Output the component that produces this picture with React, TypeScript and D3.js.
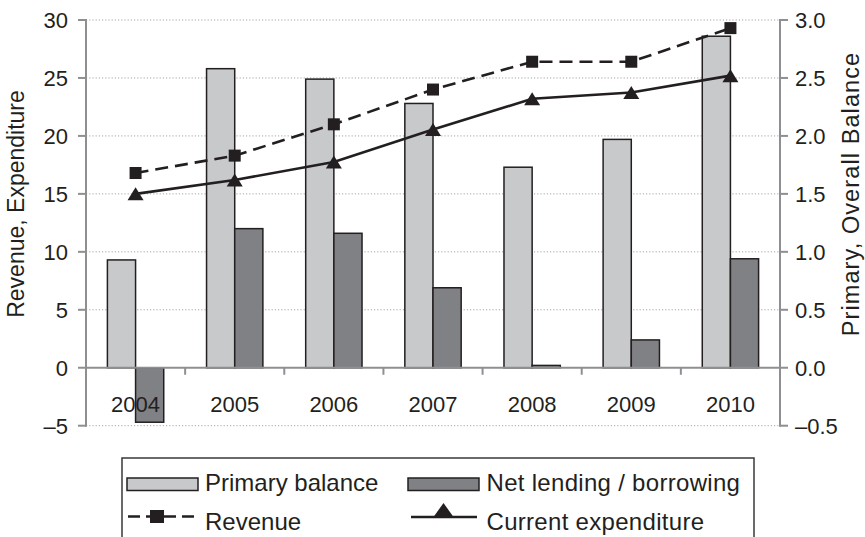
import React from 'react';
import * as d3 from 'd3';

const years = ['2004', '2005', '2006', '2007', '2008', '2009', '2010'];
const primaryBalance = [0.93, 2.58, 2.49, 2.28, 1.73, 1.97, 2.86];
const netLending = [-0.47, 1.2, 1.16, 0.69, 0.02, 0.24, 0.94];
const revenue = [16.8, 18.3, 21.0, 24.0, 26.4, 26.4, 29.3];
const expenditure = [15.0, 16.2, 17.75, 20.55, 23.2, 23.75, 25.2];
const leftTicks = [-5, 0, 5, 10, 15, 20, 25, 30];
const rightTicks = [-0.5, 0, 0.5, 1, 1.5, 2, 2.5, 3];

const W = 865;
const H = 537;
const X0 = 86;
const X1 = 780;
const YT = 20;
const YB = 425.7;
const INK = '#231f20';
const AXIS = '#8e8f92';
const FONT = '"Liberation Sans", Arial, Helvetica, sans-serif';

export default function App() {
  const x = d3.scaleBand<string>().domain(years).range([X0, X1]).padding(0);
  const inner = d3
    .scaleBand<string>()
    .domain(['p', 'n'])
    .range([0, x.bandwidth()])
    .paddingInner(0)
    .paddingOuter(0.76);
  const yL = d3.scaleLinear().domain([-5, 30]).range([YB, YT]);
  const yR = d3.scaleLinear().domain([-0.5, 3]).range([YB, YT]);
  const cx = (d: string) => (x(d) as number) + x.bandwidth() / 2;

  const revLine = d3
    .line<number>()
    .x((_, i) => cx(years[i]))
    .y((v) => yL(v));
  const expLine = revLine;

  const fmtL = (v: number) => String(v).replace('-', '–');
  const fmtR = (v: number) => v.toFixed(1).replace('-', '–');

  const tri = (px: number, py: number, w: number, h: number) =>
    `M${px},${py - h / 2}L${px + w / 2},${py + h / 2}L${px - w / 2},${py + h / 2}Z`;

  const y0 = yL(0);
  const bars: React.ReactNode[] = [];
  years.forEach((yr, i) => {
    const vals: [string, number, string][] = [
      ['p', primaryBalance[i], '#c8c9cb'],
      ['n', netLending[i], '#808184'],
    ];
    vals.forEach(([k, v, fill]) => {
      const yy = yR(v);
      bars.push(
        <rect
          key={yr + k}
          x={(x(yr) as number) + (inner(k) as number)}
          y={Math.min(yy, y0)}
          width={inner.bandwidth()}
          height={Math.abs(yy - y0)}
          fill={fill}
          stroke={INK}
          strokeWidth={1.5}
        />
      );
    });
  });

  return (
    <svg
      width={W}
      height={H}
      style={{ position: 'absolute', left: 0, top: 0, background: '#fff' }}
      fontFamily={FONT}
    >
      <rect x={0} y={0} width={W} height={H} fill="#fff" />
      {/* gridlines */}
      {leftTicks
        .filter((t) => t !== 0)
        .map((t) => (
          <line
            key={'g' + t}
            x1={X0}
            x2={X1}
            y1={yL(t)}
            y2={yL(t)}
            stroke="#a3a4a6"
            strokeWidth={1}
            strokeDasharray="1.2 2"
          />
        ))}
      {bars}
      {/* zero axis */}
      <line x1={X0} x2={X1} y1={y0} y2={y0} stroke={AXIS} strokeWidth={2} />
      {years.slice(1).map((yr) => (
        <line
          key={'xt' + yr}
          x1={x(yr) as number}
          x2={x(yr) as number}
          y1={y0}
          y2={y0 + 7}
          stroke={AXIS}
          strokeWidth={2}
        />
      ))}
      {/* left axis */}
      <line x1={X0} x2={X0} y1={YT - 1} y2={YB + 1} stroke={AXIS} strokeWidth={2} />
      {leftTicks.map((t) => (
        <g key={'lt' + t}>
          <line x1={X0 - 8} x2={X0} y1={yL(t)} y2={yL(t)} stroke={AXIS} strokeWidth={2} />
          <text
            x={68}
            y={yL(t)}
            dy="0.36em"
            textAnchor="end"
            fontSize={22}
            fill={INK}
          >
            {fmtL(t)}
          </text>
        </g>
      ))}
      {/* right axis */}
      <line x1={X1} x2={X1} y1={YT - 1} y2={YB + 1} stroke={AXIS} strokeWidth={2} />
      {rightTicks.map((t) => (
        <g key={'rt' + t}>
          <line x1={X1} x2={X1 + 8} y1={yR(t)} y2={yR(t)} stroke={AXIS} strokeWidth={2} />
          <text x={795} y={yR(t)} dy="0.36em" textAnchor="start" fontSize={22} fill={INK}>
            {fmtR(t)}
          </text>
        </g>
      ))}
      {/* year labels */}
      {years.map((yr) => (
        <text key={'yl' + yr} x={cx(yr)} y={411.5} textAnchor="middle" fontSize={22} fill={INK}>
          {yr}
        </text>
      ))}
      {/* lines */}
      <path
        d={revLine(revenue) || ''}
        fill="none"
        stroke={INK}
        strokeWidth={2.6}
        strokeDasharray="13 7"
      />
      <path d={expLine(expenditure) || ''} fill="none" stroke={INK} strokeWidth={2.6} />
      {revenue.map((v, i) => (
        <rect
          key={'rm' + i}
          x={cx(years[i]) - 6}
          y={yL(v) - 6}
          width={12}
          height={12}
          fill={INK}
        />
      ))}
      {expenditure.map((v, i) => (
        <path key={'em' + i} d={tri(cx(years[i]), yL(v), 16, 13)} fill={INK} />
      ))}
      {/* axis titles */}
      <text
        transform={`translate(24,204) rotate(-90)`}
        textAnchor="middle"
        fontSize={23}
        fill={INK}
      >
        Revenue, Expenditure
      </text>
      <text
        transform={`translate(859,194) rotate(-90)`}
        textAnchor="middle"
        fontSize={23.5}
        letterSpacing={1.1}
        fill={INK}
      >
        Primary, Overall Balance
      </text>
      {/* legend */}
      <rect x={122} y={458} width={632} height={100} fill="none" stroke="#3a3a3a" strokeWidth={1.5} />
      <rect x={127} y={478} width={71} height={12.5} fill="#c8c9cb" stroke={INK} strokeWidth={1.5} />
      <text x={205} y={491} fontSize={24} fill={INK}>
        Primary balance
      </text>
      <rect x={408} y={478} width={71} height={12.5} fill="#808184" stroke={INK} strokeWidth={1.5} />
      <text x={486.5} y={491} fontSize={24} letterSpacing={0.3} fill={INK}>
        Net lending / borrowing
      </text>
      <line
        x1={128}
        x2={198}
        y1={516.5}
        y2={516.5}
        stroke={INK}
        strokeWidth={2.4}
        strokeDasharray="12 6"
      />
      <rect x={150} y={510} width={14} height={13} fill={INK} />
      <text x={205} y={530} fontSize={24} fill={INK}>
        Revenue
      </text>
      <line x1={411} x2={477} y1={517} y2={517} stroke={INK} strokeWidth={2.4} />
      <path d={tri(443.5, 510, 20, 14)} fill={INK} />
      <text x={486.5} y={530} fontSize={24} letterSpacing={0.3} fill={INK}>
        Current expenditure
      </text>
    </svg>
  );
}
